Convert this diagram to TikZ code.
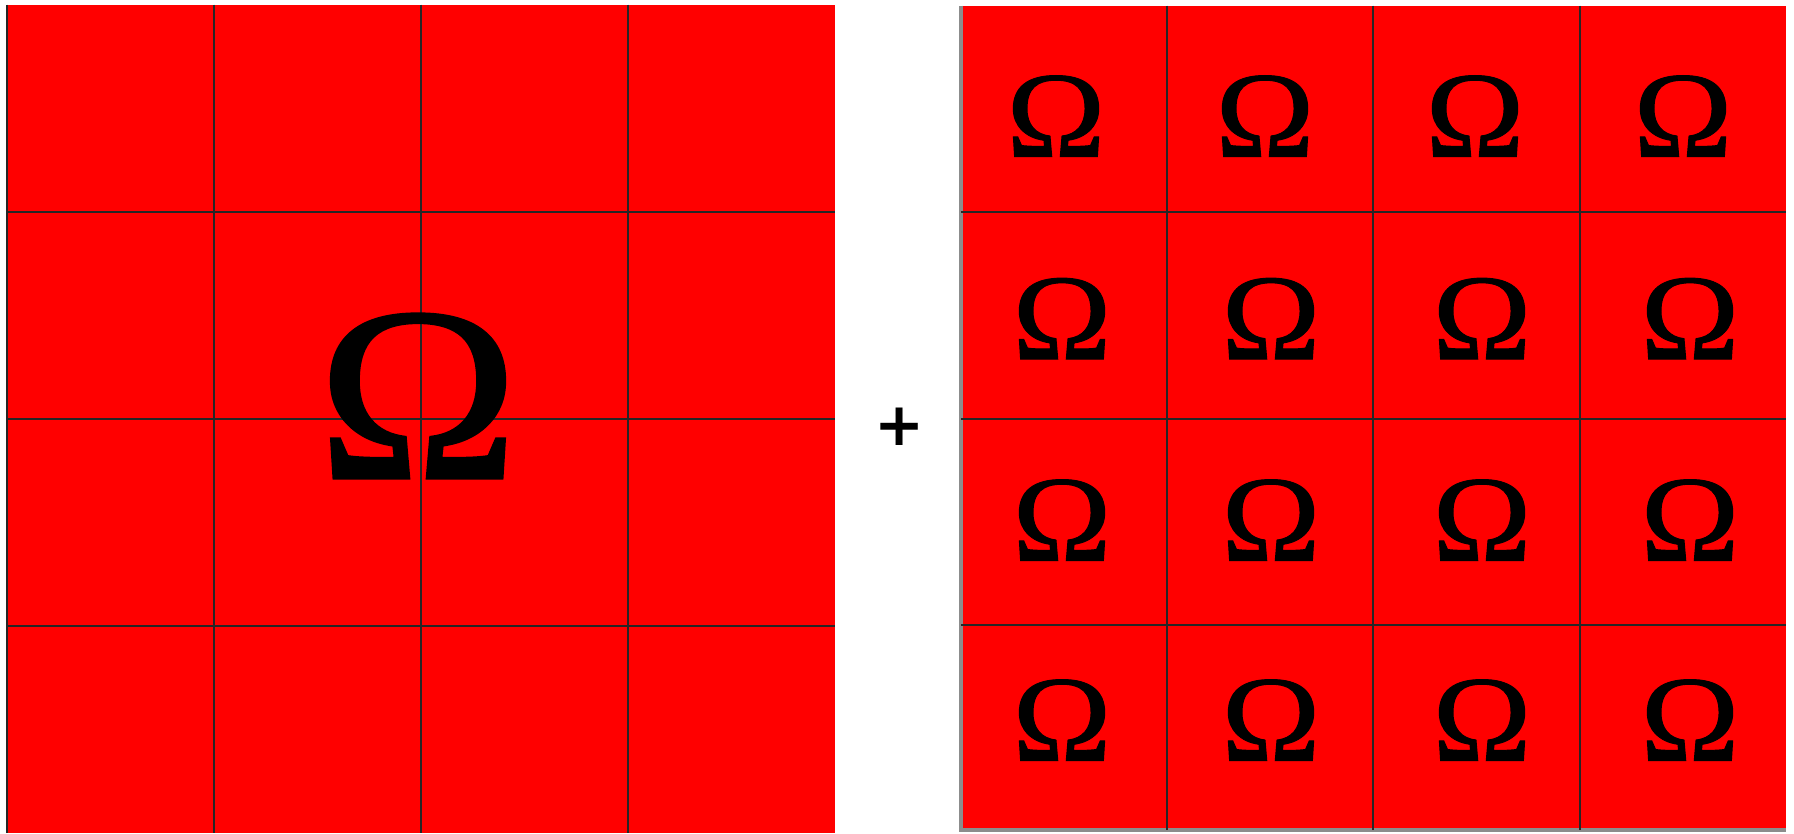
\documentclass[tikz,border=0pt]{standalone}
\usepackage{fontspec}
\newfontfamily\plusfont{DejaVu Sans}
\newfontfamily\omegafont[FakeBold=0.8]{Liberation Serif}
\definecolor{cellred}{RGB}{255,0,0}
\begin{document}
\begin{tikzpicture}[x=0.01cm, y=-0.01cm]
        % Grid style definitions
        \tikzset{
            cellfill/.style={fill=cellred, draw=none},
            gridline/.style={black!85, line width=0.6pt},
            rim/.style={black!45, line width=0.9pt},
            bigomega/.style={inner sep=0pt, xscale=1.09, font=\omegafont\fontsize{71}{71}\selectfont},
            omega/.style={inner sep=0pt, xscale=1.09, font=\omegafont\fontsize{34.8}{34.8}\selectfont}
        }
        \useasboundingbox (0,0) rectangle (1794,833);

        % ==========================================
        % LEFT GRID (one large Omega)
        % ==========================================
        \fill[cellfill] (7,4.7) rectangle (835,833);
        \draw[gridline] (7,4.7) -- (7,833);
        \draw[gridline] (214,4.7) -- (214,833);
        \draw[gridline] (421,4.7) -- (421,833);
        \draw[gridline] (628,4.7) -- (628,833);
        \draw[gridline] (7,211.7) -- (835,211.7);
        \draw[gridline] (7,418.8) -- (835,418.8);
        \draw[gridline] (7,626) -- (835,626);
        \node[bigomega] (omega big) at (418,396) {Ω};

        % Plus sign between the grids
        \node[inner sep=0pt] (plus) at (900,427) {\plusfont\bfseries\fontsize{17}{17}\selectfont +};

        % ==========================================
        % RIGHT GRID (one Omega per cell)
        % ==========================================
        \fill[cellfill] (961,5.5) rectangle (1786,830);
        \draw[rim] (961,5.5) -- (961,830) -- (1786,830);
        \draw[gridline] (1167,5.5) -- (1167,830);
        \draw[gridline] (1373,5.5) -- (1373,830);
        \draw[gridline] (1580,5.5) -- (1580,830);
        \draw[gridline] (961,211.7) -- (1786,211.7);
        \draw[gridline] (961,418.8) -- (1786,418.8);
        \draw[gridline] (961,624.7) -- (1786,624.7);

        % Row 1
        \node[omega] (om11) at (1056,116) {Ω};
        \node[omega] (om12) at (1265,116) {Ω};
        \node[omega] (om13) at (1475,116) {Ω};
        \node[omega] (om14) at (1683,116) {Ω};
        % Row 2
        \node[omega] (om21) at (1062,318.6) {Ω};
        \node[omega] (om22) at (1271,318.6) {Ω};
        \node[omega] (om23) at (1482,318.6) {Ω};
        \node[omega] (om24) at (1690,318.6) {Ω};
        % Row 3
        \node[omega] (om31) at (1062,520) {Ω};
        \node[omega] (om32) at (1271,520) {Ω};
        \node[omega] (om33) at (1482,520) {Ω};
        \node[omega] (om34) at (1690,520) {Ω};
        % Row 4
        \node[omega] (om41) at (1062,720) {Ω};
        \node[omega] (om42) at (1271,720) {Ω};
        \node[omega] (om43) at (1482,720) {Ω};
        \node[omega] (om44) at (1690,720) {Ω};
    \end{tikzpicture}
\end{document}
